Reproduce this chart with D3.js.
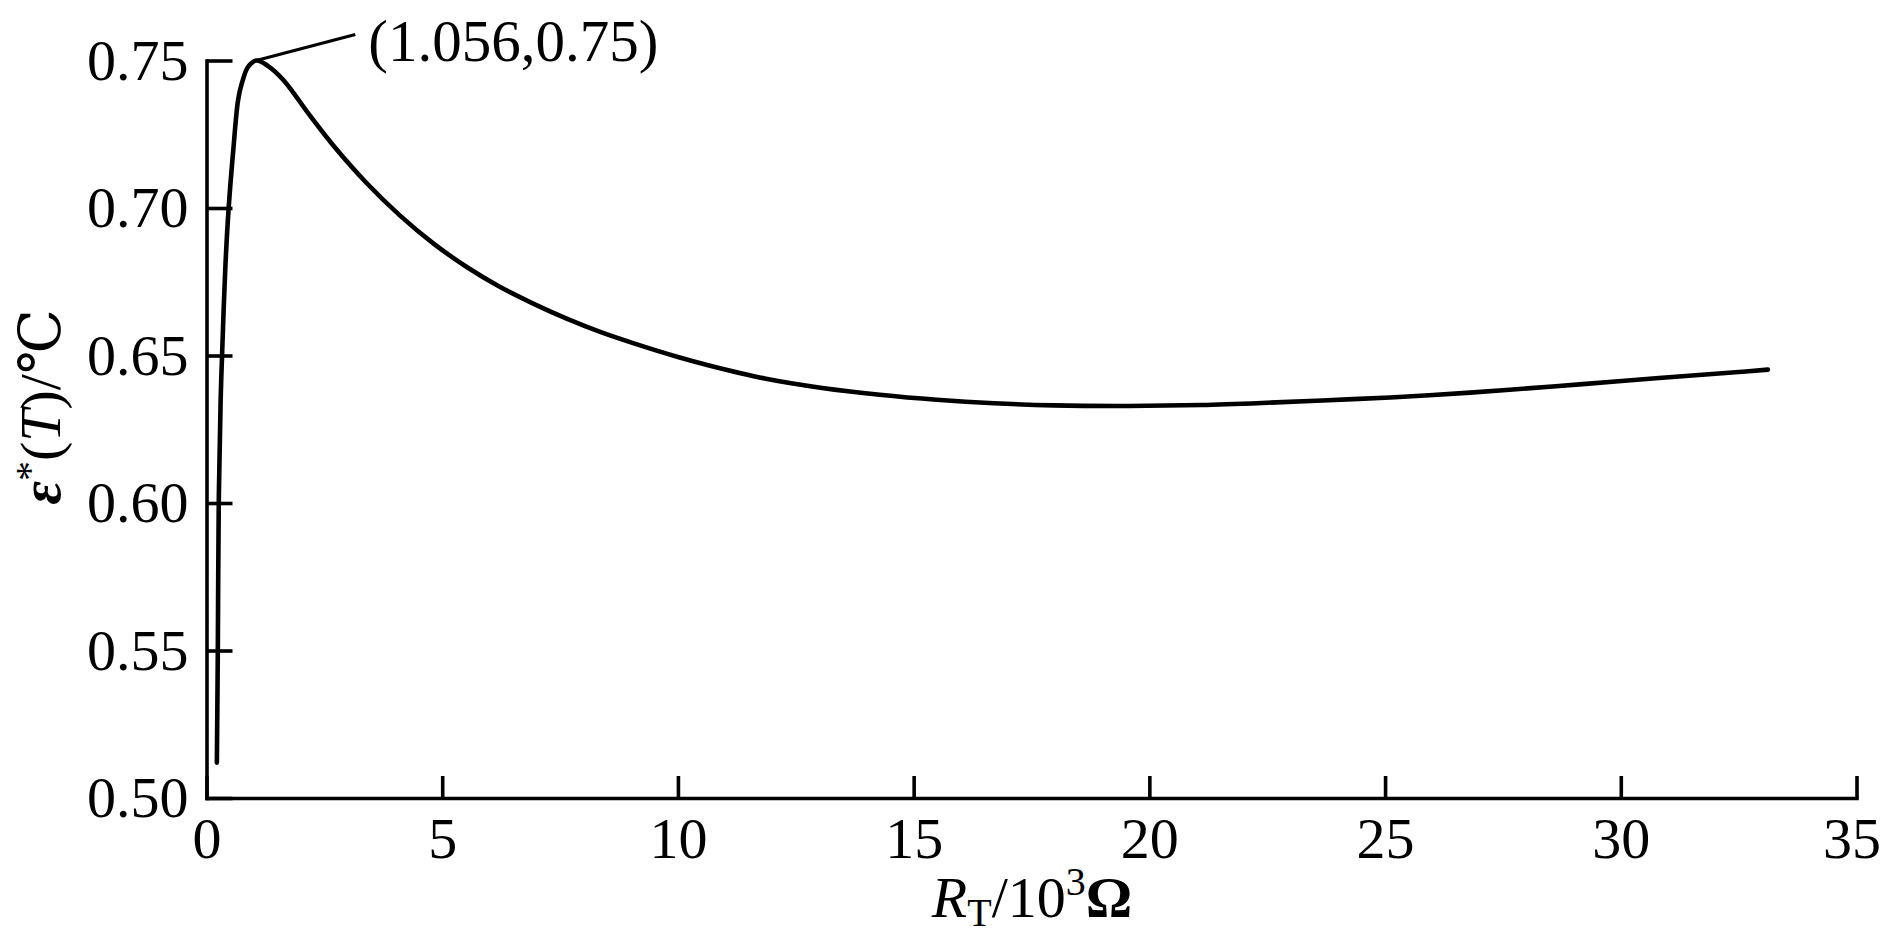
<!DOCTYPE html>
<html>
<head>
<meta charset="utf-8">
<script src="https://cdn.jsdelivr.net/npm/d3@7"></script>
<style>
  html, body { margin: 0; padding: 0; background: #fff; }
  svg { display: block; }
  text { font-family: "Liberation Serif", "DejaVu Serif", serif; fill: #000; }
</style>
</head>
<body>
<svg id="chart" width="1884" height="935"></svg>
<script>
// ---- data ----
const rValues = [0.22, 0.24, 0.26, 0.30, 0.33, 0.40, 0.47, 0.57, 0.67, 0.75, 0.88, 1.056, 1.30, 1.63, 2.20, 2.69, 3.40, 4.10, 4.81, 5.52, 6.22, 6.93, 7.64, 8.35, 9.05, 10.0, 10.62, 11.84, 13.06, 14.28, 15.49, 16.71, 17.97, 19.55, 21.10, 22.69, 24.32, 25.94, 27.57, 29.19, 30.81, 32.43, 33.12];
const epsValues = [0.512, 0.550, 0.600, 0.635, 0.650, 0.680, 0.700, 0.720, 0.7366, 0.7423, 0.7478, 0.750, 0.7482, 0.7434, 0.7312, 0.7212, 0.7084, 0.6975, 0.6880, 0.6800, 0.6733, 0.6676, 0.6625, 0.6580, 0.6542, 0.6495, 0.6468, 0.6422, 0.6390, 0.6367, 0.6350, 0.6338, 0.6331, 0.6329, 0.6332, 0.6341, 0.6352, 0.6365, 0.6383, 0.6403, 0.6424, 0.6443, 0.6452];
const xTicks = [0, 5, 10, 15, 20, 25, 30, 35];
const yTicks = [0.50, 0.55, 0.60, 0.65, 0.70, 0.75];
const yTickLabels = ["0.50", "0.55", "0.60", "0.65", "0.70", "0.75"];
const peakPoint = [1.056, 0.75];
const peakLabel = "(1.056,0.75)";

// ---- layout ----
const svg = d3.select("#chart");
const x = d3.scaleLinear().domain([0, 35]).range([206.5, 1856.5]);
const y = d3.scaleLinear().domain([0.5, 0.75]).range([798, 60.5]);
const tickFont = 58;

// x axis
const gx = svg.append("g").attr("transform", `translate(0,${y(0.5)})`)
  .call(d3.axisBottom(x).tickValues(xTicks).tickSize(-22).tickSizeOuter(0).tickPadding(19)
    .tickFormat(d3.format("d")));
// y axis
const gy = svg.append("g").attr("transform", `translate(${x(0)},0)`)
  .call(d3.axisLeft(y).tickValues(yTicks).tickSize(-26).tickSizeOuter(0).tickPadding(18)
    .tickFormat((d, i) => yTickLabels[i]));

[gx, gy].forEach(g => {
  g.select(".domain").attr("stroke", "#000").attr("stroke-width", 3.6).attr("stroke-linecap", "square");
  g.selectAll(".tick line").attr("stroke", "#000").attr("stroke-width", 3.6);
  g.selectAll(".tick text").attr("font-size", tickFont)
    .attr("font-family", "'Liberation Serif', 'DejaVu Serif', serif").attr("fill", "#000");
});
// keep the last x label inside the page edge
gx.selectAll(".tick text").filter(d => d === 35).attr("dx", -5);

// curve
const pts = rValues.map((r, i) => [r, epsValues[i]]);
svg.append("path")
  .datum(pts)
  .attr("fill", "none")
  .attr("stroke", "#000")
  .attr("stroke-width", 4.6)
  .attr("stroke-linejoin", "round")
  .attr("stroke-linecap", "round")
  .attr("d", d3.line().x(d => x(d[0])).y(d => y(d[1])).curve(d3.curveCatmullRom.alpha(0.5)));

// annotation leader & label
const px = x(peakPoint[0]), py = y(peakPoint[1]);
svg.append("line")
  .attr("x1", px).attr("y1", py)
  .attr("x2", px + 99).attr("y2", py - 26)
  .attr("stroke", "#000").attr("stroke-width", 3.2);
svg.append("text")
  .attr("x", px + 112).attr("y", py)
  .attr("font-size", 59)
  .text(peakLabel);

// x axis title: R_T/10^3 Ω
const xt = svg.append("text")
  .attr("x", 1032).attr("y", 917)
  .attr("text-anchor", "middle")
  .attr("font-size", 58);
xt.append("tspan").attr("font-style", "italic").text("R");
xt.append("tspan").attr("font-size", 40).attr("dy", 9).text("T");
xt.append("tspan").attr("dy", -9).text("/10");
xt.append("tspan").attr("font-size", 40).attr("dy", -22).text("3");
xt.append("tspan").attr("dy", 22).attr("font-weight", "bold").text("Ω");

// y axis title: ε*(T)/℃
const yt = svg.append("text")
  .attr("transform", "translate(60,407) rotate(-90)")
  .attr("text-anchor", "middle")
  .attr("font-size", 58);
yt.append("tspan").attr("font-weight", "bold").attr("font-style", "italic").text("ε");
yt.append("tspan").attr("font-size", 40).attr("dy", -17).text("*");
yt.append("tspan").attr("dy", 17).text("(");
yt.append("tspan").attr("font-style", "italic").text("T");
yt.append("tspan").text(")/℃");
</script>
</body>
</html>
